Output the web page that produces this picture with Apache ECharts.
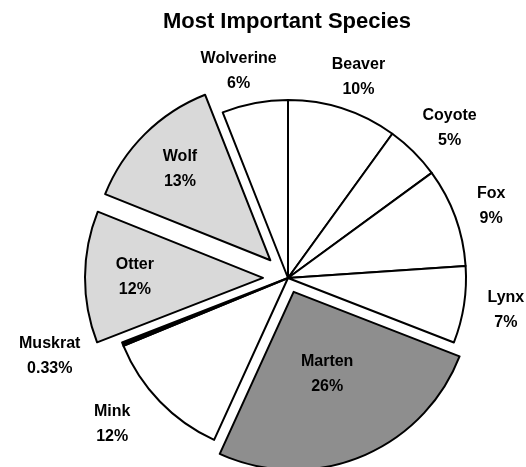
<!DOCTYPE html>
<html>
<head>
<meta charset="utf-8">
<title>Most Important Species</title>
<script src="https://cdn.jsdelivr.net/npm/echarts@6/dist/echarts.min.js"></script>
<style>
  html, body { margin: 0; background: #fff; }
  #main { width: 526px; height: 467px; }
</style>
</head>
<body>
<div id="main"></div>
<script>
// values, clockwise from 12 o'clock
var species = ['Beaver', 'Coyote', 'Fox', 'Lynx', 'Marten', 'Mink', 'Muskrat', 'Otter', 'Wolf', 'Wolverine'];
var shares = [10, 5, 9, 7, 26, 12, 0.33, 12, 13, 6];

// slices pulled out of the pie
var pulledFar = ['Otter', 'Wolf'];
var pulledNear = ['Marten'];

var myChart = echarts.init(document.getElementById('main'));

var cx = 288, cy = 278, r = 178;
var farOffset = 25, nearOffset = 15;
// Muskrat is only a sliver, drawn as a solid black wedge like the original
var fills = { Marten: '#8e8e8e', Otter: '#d9d9d9', Wolf: '#d9d9d9', Muskrat: '#000' };
var font = 'Liberation Sans, Arial, Helvetica, sans-serif';

var total = shares.reduce(function(a, b) { return a + b; }, 0);

// middle angle of slice i, radians clockwise from the top
function midAngle(i) {
    var before = 0;
    for (var k = 0; k < i; k++) before += shares[k];
    return (before + shares[i] / 2) / total * Math.PI * 2;
}

function isIn(list, name) { return list.indexOf(name) >= 0; }

// the unpulled slices; this series also carries every label (drawn on top)
function baseSeries() {
    return {
        type: 'pie',
        z: 3,
        center: [cx, cy],
        radius: r,
        startAngle: 90,
        clockwise: true,
        avoidLabelOverlap: false,
        silent: true,
        emphasis: { disabled: true },
        label: {
            position: 'inside',
            formatter: '{b}\n{c}%',
            color: '#000',
            fontFamily: font,
            fontSize: 16,
            fontWeight: 'bold',
            lineHeight: 25
        },
        labelLine: { show: false },
        labelLayout: function(p) {
            var name = species[p.dataIndex];
            var a = midAngle(p.dataIndex);
            var s = Math.sin(a), c = Math.cos(a);
            var d;
            if (isIn(pulledFar, name)) {
                d = farOffset + r * 0.72;
                return { x: cx + s * d, y: cy - c * d, align: 'center', verticalAlign: 'middle' };
            }
            if (isIn(pulledNear, name)) {
                d = nearOffset + r * 0.5;
                return { x: cx + s * d, y: cy - c * d, align: 'center', verticalAlign: 'middle' };
            }
            var w = p.labelRect.width, h = p.labelRect.height;
            var gapX = s < 0 ? 48 : 24;
            return {
                x: cx + s * (r + gapX + w / 2),
                y: cy - c * (r + 8 + h / 2),
                align: 'center',
                verticalAlign: 'middle'
            };
        },
        data: species.map(function(name, i) {
            var pulled = isIn(pulledFar, name) || isIn(pulledNear, name);
            return {
                name: name,
                value: shares[i],
                itemStyle: pulled
                    ? { color: 'rgba(0,0,0,0)', borderWidth: 0 }
                    : { color: fills[name] || '#fff', borderColor: '#000', borderWidth: 2 }
            };
        })
    };
}

// pulled-out slices, moved along their middle angle by offset
function pulledSeries(offset, members) {
    return {
        type: 'pie',
        z: 2,
        center: [cx, cy],
        radius: r,
        startAngle: 90,
        clockwise: true,
        selectedMode: 'multiple',
        selectedOffset: offset,
        silent: true,
        emphasis: { disabled: true },
        label: { show: false },
        labelLine: { show: false },
        data: species.map(function(name, i) {
            var on = isIn(members, name);
            return {
                name: name,
                value: shares[i],
                selected: on,
                itemStyle: on
                    ? { color: fills[name] || '#fff', borderColor: '#000', borderWidth: 2 }
                    : { color: 'rgba(0,0,0,0)', borderWidth: 0 }
            };
        })
    };
}

var option = {
    backgroundColor: '#fff',
    animation: false,
    title: {
        text: 'Most Important Species',
        left: 282,
        top: 6,
        textAlign: 'center',
        textStyle: {
            fontFamily: font,
            fontSize: 22,
            fontWeight: 'bold',
            color: '#000'
        }
    },
    series: [
        pulledSeries(nearOffset, pulledNear),
        pulledSeries(farOffset, pulledFar),
        baseSeries()
    ]
};

myChart.setOption(option);
</script>
</body>
</html>
